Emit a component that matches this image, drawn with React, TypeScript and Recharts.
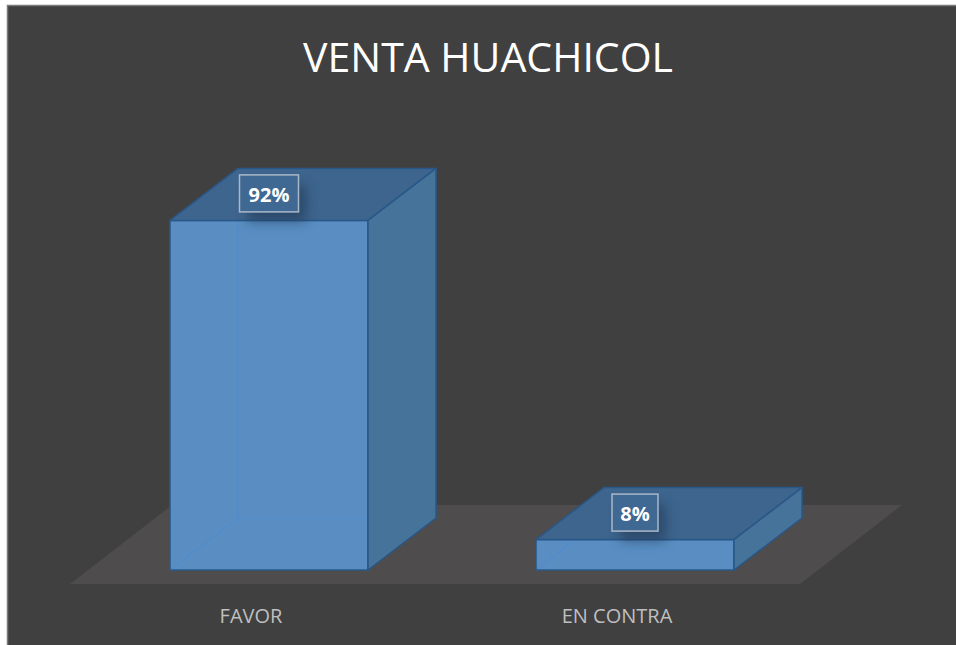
import React from 'react';
import { BarChart, Bar, XAxis, YAxis, LabelList } from 'recharts';

const categories = ['FAVOR', 'EN CONTRA'];
const values = [0.92, 0.08];
const valueLabels = ['92%', '8%'];
const title = 'VENTA HUACHICOL';

const data = categories.map((c, i) => ({ name: c, value: values[i], label: valueLabels[i] }));

const W = 956;
const H = 645;
const MARGIN = { top: 190, right: 138, bottom: 45, left: 86 };
const AXIS_H = 30;
const BASE_Y = H - MARGIN.bottom - AXIS_H; // 570
const DX = 68;
const DY = 52;

const FRONT = '#5a8ec3';
const TOP = '#3e658e';
const SIDE = '#467399';
const EDGE = '#295888';
const INNER = '#4e8ccb';

const Bar3D = (props: any) => {
  const { x, y, width, height } = props;
  if (width == null || height == null) return null;
  const w = width;
  const h = height;
  return (
    <g>
      <rect x={x} y={y} width={w} height={h} fill={FRONT} />
      <line x1={x + DX} y1={y - DY} x2={x + DX} y2={y + h - DY} stroke={INNER} strokeWidth={1.2} opacity={0.8} />
      <line x1={x + DX} y1={y + h - DY} x2={x + w + DX} y2={y + h - DY} stroke={INNER} strokeWidth={1.2} opacity={0.8} />
      <line x1={x} y1={y + h} x2={x + DX} y2={y + h - DY} stroke={INNER} strokeWidth={1.2} opacity={0.8} />
      <rect x={x} y={y} width={w} height={h} fill="none" stroke={EDGE} strokeWidth={1.5} />
      <polygon
        points={`${x},${y} ${x + DX},${y - DY} ${x + w + DX},${y - DY} ${x + w},${y}`}
        fill={TOP}
        stroke={EDGE}
        strokeWidth={1.5}
        strokeLinejoin="round"
      />
      <polygon
        points={`${x + w},${y} ${x + w + DX},${y - DY} ${x + w + DX},${y + h - DY} ${x + w},${y + h}`}
        fill={SIDE}
        stroke={EDGE}
        strokeWidth={1.5}
        strokeLinejoin="round"
      />
    </g>
  );
};

const ValueLabel = (props: any) => {
  const { x, y, width, value, index } = props;
  const cx = x + width / 2;
  const cy = y - 27;
  const text = String(value);
  const bw = text.length >= 3 ? 59 : 46;
  const bh = 37;
  return (
    <g>
      <defs>
        <filter id={`lblShadow${index}`} x="-50%" y="-50%" width="200%" height="200%">
          <feGaussianBlur stdDeviation="6" />
        </filter>
      </defs>
      <rect
        x={cx - bw / 2 + 8}
        y={cy - bh / 2 + 10}
        width={bw}
        height={bh}
        fill="#1c3550"
        opacity={0.55}
        filter={`url(#lblShadow${index})`}
      />
      <rect x={cx - bw / 2} y={cy - bh / 2} width={bw} height={bh} fill="#3f6892" stroke="#a9b8c8" strokeWidth={1.5} />
      <text
        x={cx}
        y={cy + 1}
        textAnchor="middle"
        dominantBaseline="central"
        fill="#ffffff"
        fontFamily="'Open Sans', sans-serif"
        fontWeight={700}
        fontSize={20}
      >
        {text}
      </text>
    </g>
  );
};

const CatTick = (props: any) => {
  const { x, payload } = props;
  return (
    <text
      x={x - 18}
      y={BASE_Y + 45}
      textAnchor="middle"
      dominantBaseline="central"
      fill="#bfbfbf"
      fontFamily="'Open Sans', sans-serif"
      fontSize={20}
    >
      {payload.value}
    </text>
  );
};

const Background = () => {
  const fy = BASE_Y + 14;
  const fl = 70;
  const fr = 800;
  const fdx = 102;
  const fdy = 79;
  return (
    <svg width={W} height={H} style={{ position: 'absolute', left: 0, top: 0 }}>
      <rect x={0} y={0} width={W} height={H} fill="#ffffff" />
      <rect x={7.5} y={5.5} width={W + 20} height={H + 20} fill="#404040" stroke="#7a7a7a" strokeWidth={1.5} />
      <polygon
        points={`${fl},${fy} ${fr},${fy} ${fr + fdx},${fy - fdy} ${fl + fdx},${fy - fdy}`}
        fill="#4e4c4d"
      />
      <text
        x={488}
        y={56}
        textAnchor="middle"
        dominantBaseline="central"
        fill="#ffffff"
        fontFamily="'Open Sans', sans-serif"
        fontSize={41}
      >
        {title}
      </text>
    </svg>
  );
};

export default function App() {
  return (
    <div style={{ position: 'absolute', left: 0, top: 0, width: W, height: H, overflow: 'hidden' }}>
      <Background />
      <div style={{ position: 'absolute', left: 0, top: 0 }}>
        <BarChart width={W} height={H} data={data} margin={MARGIN} barSize={198}>
          <XAxis dataKey="name" axisLine={false} tickLine={false} height={AXIS_H} tick={<CatTick />} interval={0} />
          <YAxis hide domain={[0, 1]} />
          <Bar dataKey="value" shape={<Bar3D />} isAnimationActive={false}>
            <LabelList dataKey="label" content={<ValueLabel />} />
          </Bar>
        </BarChart>
      </div>
    </div>
  );
}
